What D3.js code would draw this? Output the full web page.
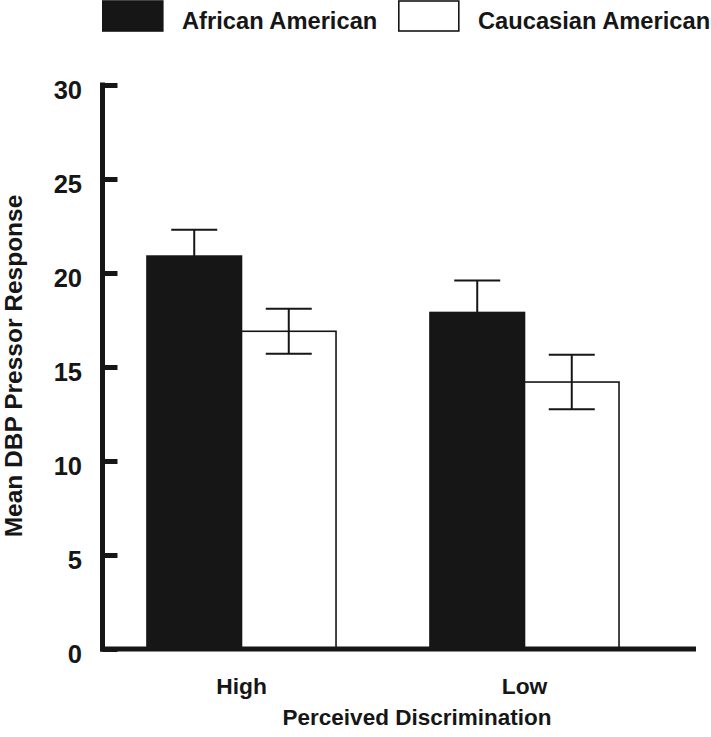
<!DOCTYPE html>
<html>
<head>
<meta charset="utf-8">
<script src="https://cdn.jsdelivr.net/npm/d3@7"></script>
<style>
  html, body { margin: 0; padding: 0; background: #fff; }
  svg { display: block; }
  text { font-family: "Liberation Sans", Arial, Helvetica, sans-serif; font-weight: bold; fill: #161616; }
</style>
</head>
<body>
<script>
// ---- data ----
const categories = ["High", "Low"];
const seriesNames = ["African American", "Caucasian American"];
const africanAmerican = [20.9, 17.9];
const africanAmericanErr = [1.4, 1.7];
const caucasianAmerican = [16.9, 14.2];
const caucasianAmericanErr = [1.2, 1.45];
const yTicks = [0, 5, 10, 15, 20, 25, 30];
const yTitle = "Mean DBP Pressor Response";
const xTitle = "Perceived Discrimination";

const values = [africanAmerican, caucasianAmerican];
const errors = [africanAmericanErr, caucasianAmericanErr];
const fills = ["#161616", "#ffffff"];

const W = 711, H = 737;
const svg = d3.select("body").append("svg").attr("width", W).attr("height", H);

const y = d3.scaleLinear().domain([0, 30]).range([649, 85]);
const x0 = d3.scaleBand().domain(categories).range([100, 666]).paddingInner(0.332).paddingOuter(0.166);
const x1 = d3.scaleBand().domain(seriesNames).range([0, x0.bandwidth()]);

const ink = "#161616";

// bars
const rows = [];
categories.forEach((c, i) => seriesNames.forEach((s, j) => rows.push({c, s, j, v: values[j][i], e: errors[j][i]})));

const g = svg.append("g");
g.selectAll("rect.bar").data(rows).enter().append("rect")
  .attr("class", "bar")
  .attr("x", d => x0(d.c) + x1(d.s))
  .attr("y", d => y(d.v))
  .attr("width", x1.bandwidth())
  .attr("height", d => y(0) - y(d.v))
  .attr("fill", d => fills[d.j])
  .attr("stroke", ink)
  .attr("stroke-width", 1.6);

// error bars
const capW = 46;
const eb = g.selectAll("g.err").data(rows).enter().append("g").attr("class", "err")
  .attr("stroke", ink).attr("stroke-width", 2);
eb.append("line")
  .attr("x1", d => x0(d.c) + x1(d.s) + x1.bandwidth() / 2)
  .attr("x2", d => x0(d.c) + x1(d.s) + x1.bandwidth() / 2)
  .attr("y1", d => y(d.v + d.e))
  .attr("y2", d => d.j === 0 ? y(d.v) : y(d.v - d.e));
eb.append("line")
  .attr("x1", d => x0(d.c) + x1(d.s) + x1.bandwidth() / 2 - capW / 2)
  .attr("x2", d => x0(d.c) + x1(d.s) + x1.bandwidth() / 2 + capW / 2)
  .attr("y1", d => y(d.v + d.e)).attr("y2", d => y(d.v + d.e));
eb.filter(d => d.j === 1).append("line")
  .attr("x1", d => x0(d.c) + x1(d.s) + x1.bandwidth() / 2 - capW / 2)
  .attr("x2", d => x0(d.c) + x1(d.s) + x1.bandwidth() / 2 + capW / 2)
  .attr("y1", d => y(d.v - d.e)).attr("y2", d => y(d.v - d.e));

// y axis
const yAxis = d3.axisRight(y).tickValues(yTicks).tickSize(15).tickFormat("");
const ya = svg.append("g").attr("transform", "translate(102.5,0)").call(yAxis);
ya.select(".domain").remove();
ya.selectAll(".tick line").attr("stroke", ink).attr("stroke-width", 5).attr("x1", 0);
svg.append("line").attr("x1", 102.5).attr("x2", 102.5).attr("y1", y(30) - 2.5).attr("y2", y(0) + 2.5)
  .attr("stroke", ink).attr("stroke-width", 5);
svg.selectAll("text.ytick").data(yTicks).enter().append("text")
  .attr("class", "ytick")
  .attr("x", 82).attr("y", d => y(d) + 13.5)
  .attr("text-anchor", "end").attr("font-size", 25.5)
  .text(d => d);

// x axis line
svg.append("line").attr("x1", 100).attr("x2", 696).attr("y1", y(0)).attr("y2", y(0))
  .attr("stroke", ink).attr("stroke-width", 5);

// x category labels
svg.selectAll("text.xcat").data(categories).enter().append("text")
  .attr("class", "xcat")
  .attr("x", d => x0(d) + x0.bandwidth() / 2)
  .attr("y", 694)
  .attr("text-anchor", "middle").attr("font-size", 22.8)
  .text(d => d);

// titles
svg.append("text").attr("x", 417).attr("y", 725).attr("text-anchor", "middle")
  .attr("font-size", 22.5).text(xTitle);
svg.append("text").attr("transform", "translate(22,366) rotate(-90)").attr("text-anchor", "middle")
  .attr("font-size", 24.5).text(yTitle);

// legend
const legX = [102, 398];
const leg = svg.selectAll("g.leg").data(seriesNames).enter().append("g").attr("class", "leg");
leg.append("rect")
  .attr("x", (d, i) => legX[i] + 0.8).attr("y", 1)
  .attr("width", 60).attr("height", 30)
  .attr("fill", (d, i) => fills[i]).attr("stroke", ink).attr("stroke-width", 1.6);
leg.append("text")
  .attr("x", (d, i) => legX[i] + 80).attr("y", 29)
  .attr("font-size", 23.7)
  .text(d => d);
</script>
</body>
</html>
